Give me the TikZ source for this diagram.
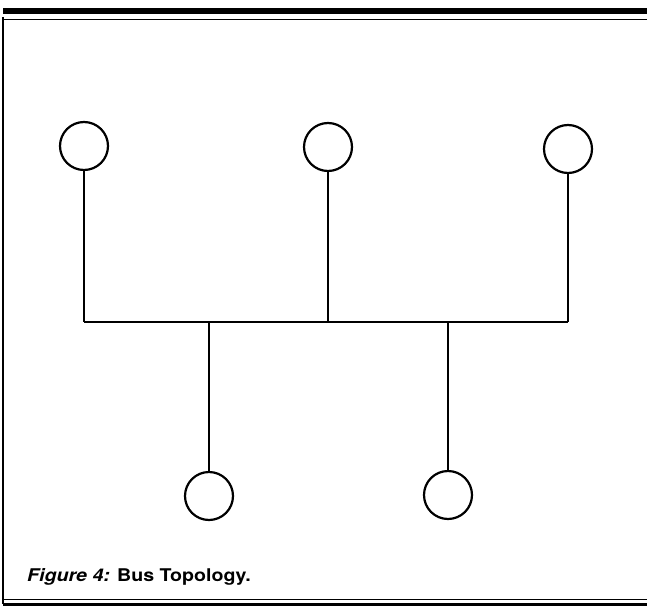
\documentclass[tikz,border=0pt]{standalone}
\usepackage{fontspec}
\setsansfont{TeX Gyre Heros}
\usetikzlibrary{positioning,calc}

\begin{document}
\begin{tikzpicture}[x=1pt, y=-1pt,
  station/.style={circle, draw, line width=2.2pt, minimum size=48pt, inner sep=0pt},
  tap/.style={line width=1.6pt},
  busline/.style={line width=2.2pt},
  rule/.style={line width=1pt}]

 \useasboundingbox (0,0) rectangle (647,607);

 % frame
 \draw[line width=6pt] (3,11) -- (647,11);
 \draw[rule] (3,20) -- (647,20);
 \draw[line width=1.5pt] (3,17) -- (3,604);
 \draw[rule] (3,599) -- (647,599);
 \draw[line width=3pt] (3,604) -- (647,604);

 % stations
 \node[station] (s1) at (84,146) {};
 \node[station] (s2) at (328,147) {};
 \node[station] (s3) at (568,149) {};
 \node[station] (s4) at (209,496) {};
 \node[station] (s5) at (448,495) {};

 \coordinate (bus) at (0,322);

 % taps onto the bus
 \draw[line width=1.1pt] (s1.south) -- (s1 |- bus);
 \draw[tap] (s2.south) -- (s2 |- bus);
 \draw[tap] (s3.south) -- (s3 |- bus);
 \draw[busline] (s4.north) -- (s4 |- bus);
 \draw[busline] (s5.north) -- (s5 |- bus);
 \draw[busline] (s1 |- bus) -- (s3 |- bus);

 \node[anchor=base west, inner sep=0pt, font=\sffamily\bfseries\fontsize{17.5}{20}\selectfont\addfontfeature{FakeStretch=1.12}] (caption) at (27,581) {\textit{Figure 4:} Bus Topology.};

\end{tikzpicture}
\end{document}
